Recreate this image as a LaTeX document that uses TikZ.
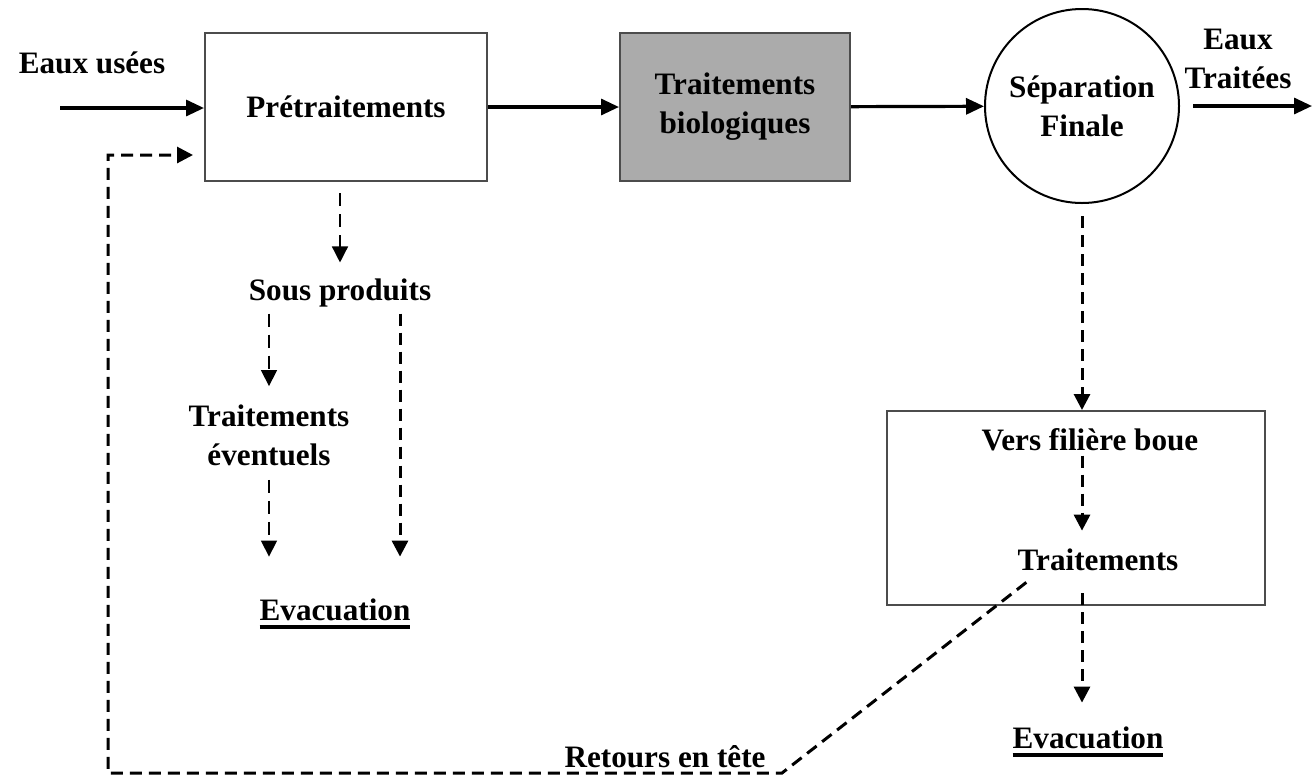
\documentclass[tikz,border=0pt]{standalone}
\usepackage{fontspec}
\setmainfont{Liberation Serif}
\usetikzlibrary{arrows.meta,positioning,shapes}

\newcommand{\souligne}[1]{\setbox0=\hbox{#1}\rlap{\smash{\raisebox{-4pt}{\rule{\wd0}{2pt}}}}\box0}

\begin{document}
\begin{tikzpicture}[x=0.5pt,y=-0.5pt,
  font=\fontsize{15.6}{19.5}\selectfont\bfseries,
  bloc/.style={draw=black!70,line width=1pt,minimum height=74pt,align=center},
  txt/.style={inner sep=0pt,align=center},
  flux/.style={-{Triangle[length=9pt,width=8pt]},line width=1.6pt},
  fin/.style={-{Triangle[length=8pt,width=8pt]},line width=.7pt,dash pattern=on 6.5pt off 4pt},
  epais/.style={-{Triangle[length=8pt,width=8pt]},line width=1.5pt,dash pattern=on 6pt off 3.5pt}]

        \useasboundingbox (0,0) rectangle (1312,778);

        % ligne principale
        \node[txt] (usees) at (92,63) {Eaux usées};
        \coordinate (entree) at (60,108);
        \node[bloc,minimum width=141pt] (pre) at (346,107) {Prétraitements};
        \node[bloc,minimum width=115pt,fill=black!33] (bio) at (735,107) {Traitements\\biologiques};
        \node[draw,circle,line width=1pt,minimum size=97pt,inner sep=0pt,align=center] (sep) at (1082,106) {Séparation\\Finale};
        \node[txt] (traitees) at (1238,59) {Eaux\\Traitées};
        \coordinate (sortie) at (1312,106);

        \draw[flux] (entree) -- (entree -| pre.west);
        \draw[flux] (pre) -- (bio);
        \draw[flux] (bio) -- (sep);
        \draw[flux] ([xshift=6.5pt]sep.east) -- (sortie);

        % sous produits
        \node[txt] (sous) at (340,293) {Sous produits};
        \node[txt] (trev) at (269,435) {Traitements\\éventuels};
        \node[txt] (evac1) at (335,610) {\souligne{Evacuation}};

        \draw[fin,shorten <=5.5pt,shorten >=8pt] (pre.south -| sous) -- (sous.north);
        \draw[fin,shorten <=3pt,shorten >=9pt] (sous.south -| trev) -- (trev.north);
        \draw[fin,shorten <=7pt,shorten >=21pt] (trev.south) -- (trev.south |- evac1.north);
        \draw[epais,shorten <=3pt,shorten >=21pt] ([xshift=30pt]sous.south) -- ([xshift=30pt]sous.south |- evac1.north);

        % filiere boue
        \node[bloc,minimum width=189pt,minimum height=97pt] (boue) at (1076,508) {};
        \node[txt] (vers) at (1090,440) {Vers filière boue};
        \node[txt] (trt) at (1098,560) {Traitements};
        \node[txt] (evac2) at (1088,738) {\souligne{Evacuation}};

        \draw[epais,shorten <=6pt] (sep.south) -- (sep.south |- boue.north);
        \draw[epais,shorten <=2pt,shorten >=9pt] (vers.south -| sep) -- (trt.north -| sep);
        \draw[epais,shorten <=11pt,shorten >=12pt] (trt.south -| sep) -- (evac2.north -| sep);

        % retours en tete
        \node[txt] (retours) at (665,757) {Retours en tête};
        \coordinate (coude) at (782,773);
        \coordinate (angle) at (108,773);
        \draw[epais] ([xshift=4.5pt,yshift=-5.5pt]trt.south west) -- (coude) -- (angle)
              |- ([xshift=-5.5pt,yshift=-24pt]pre.west);

      \end{tikzpicture}
\end{document}
